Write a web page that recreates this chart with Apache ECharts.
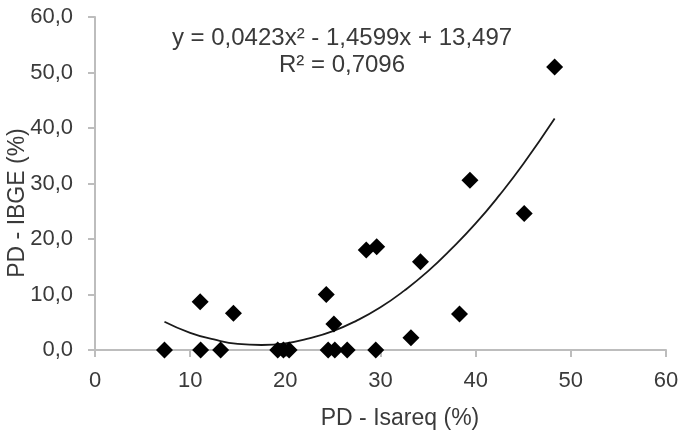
<!DOCTYPE html>
<html>
<head>
<meta charset="utf-8">
<script src="https://cdn.jsdelivr.net/npm/echarts@6/dist/echarts.min.js"></script>
<style>
  html, body { margin: 0; padding: 0; background: #fff; }
  #chart { width: 684px; height: 430px; }
</style>
</head>
<body>
<div id="chart"></div>
<script>
// PD - Isareq (x) vs PD - IBGE (y), em %
var isareq = [7.3, 11.1, 13.2, 19.2, 19.8, 20.4, 24.5, 25.2, 26.5, 29.5,
              11.05, 14.55, 24.3, 25.1, 28.5, 29.6, 33.2, 34.2, 38.3, 39.4, 45.1, 48.3];
var ibge   = [0, 0, 0, 0, 0, 0, 0, 0, 0, 0,
              8.7, 6.6, 10.0, 4.7, 18.0, 18.6, 2.2, 15.9, 6.5, 30.6, 24.6, 51.0];

// linha de tendência
var trendX = [7.3, 10, 12.5, 15, 17.5, 20, 22.5, 25, 27.5, 30, 32.5, 35, 37.5, 40, 42.5, 45, 48.3];
var trendY = [5.1, 3.1, 1.9, 1.1, 0.9, 1.2, 2.1, 3.4, 5.3, 7.7, 10.7, 14.2, 18.3, 22.8, 27.9, 33.5, 41.7];

var eqText = 'y = 0,0423x² - 1,4599x + 13,497';
var r2Text = 'R² = 0,7096';
var xName = 'PD - Isareq (%)';
var yName = 'PD - IBGE (%)';

var font = "'Liberation Sans', Arial, sans-serif";
var txt = '#3a3a3a';
var axisGray = '#bdbdbd';

var points = isareq.map(function (x, i) { return [x, ibge[i]]; });
var trend = trendX.map(function (x, i) { return [x, trendY[i]]; });

var option = {
    animation: false,
    backgroundColor: '#fff',
    grid: {
        left: 95,
        right: 18,
        top: 17,
        bottom: 80
    },
    xAxis: {
        type: 'value',
        min: 0,
        max: 60,
        interval: 10,
        splitLine: { show: false },
        axisLine: { lineStyle: { color: axisGray, width: 2 } },
        axisTick: { show: true, length: 7, lineStyle: { color: axisGray, width: 2 } },
        axisLabel: { color: txt, fontSize: 22, fontFamily: font, margin: 20 }
    },
    yAxis: {
        type: 'value',
        min: 0,
        max: 60,
        interval: 10,
        splitLine: { show: false },
        axisLine: { show: true, lineStyle: { color: axisGray, width: 2 } },
        axisTick: { show: true, length: 7, lineStyle: { color: axisGray, width: 2 } },
        axisLabel: {
            color: txt, fontSize: 22, fontFamily: font, margin: 22,
            formatter: function (v) { return v.toFixed(1).replace('.', ','); }
        }
    },
    graphic: [
        {
            type: 'text', x: 342, y: 38,
            style: { text: eqText, fill: txt, font: '24px ' + font, align: 'center', verticalAlign: 'middle' }
        },
        {
            type: 'text', x: 342, y: 65,
            style: { text: r2Text, fill: txt, font: '24px ' + font, align: 'center', verticalAlign: 'middle' }
        },
        {
            type: 'text', x: 400, y: 419,
            style: { text: xName, fill: txt, font: '23px ' + font, align: 'center', verticalAlign: 'middle' }
        },
        {
            type: 'text', x: 18, y: 203, rotation: Math.PI / 2,
            style: { text: yName, fill: txt, font: '23px ' + font, align: 'center', verticalAlign: 'middle' }
        }
    ],
    series: [
        {
            name: 'tendência',
            type: 'line',
            data: trend,
            smooth: true,
            showSymbol: false,
            lineStyle: { color: '#1a1a1a', width: 1.8 },
            z: 2
        },
        {
            name: 'PD',
            type: 'scatter',
            data: points,
            symbol: 'diamond',
            symbolSize: [17, 17],
            itemStyle: { color: '#000', opacity: 1 },
            z: 3
        }
    ]
};

var chart = echarts.init(document.getElementById('chart'));
chart.setOption(option);
</script>
</body>
</html>
